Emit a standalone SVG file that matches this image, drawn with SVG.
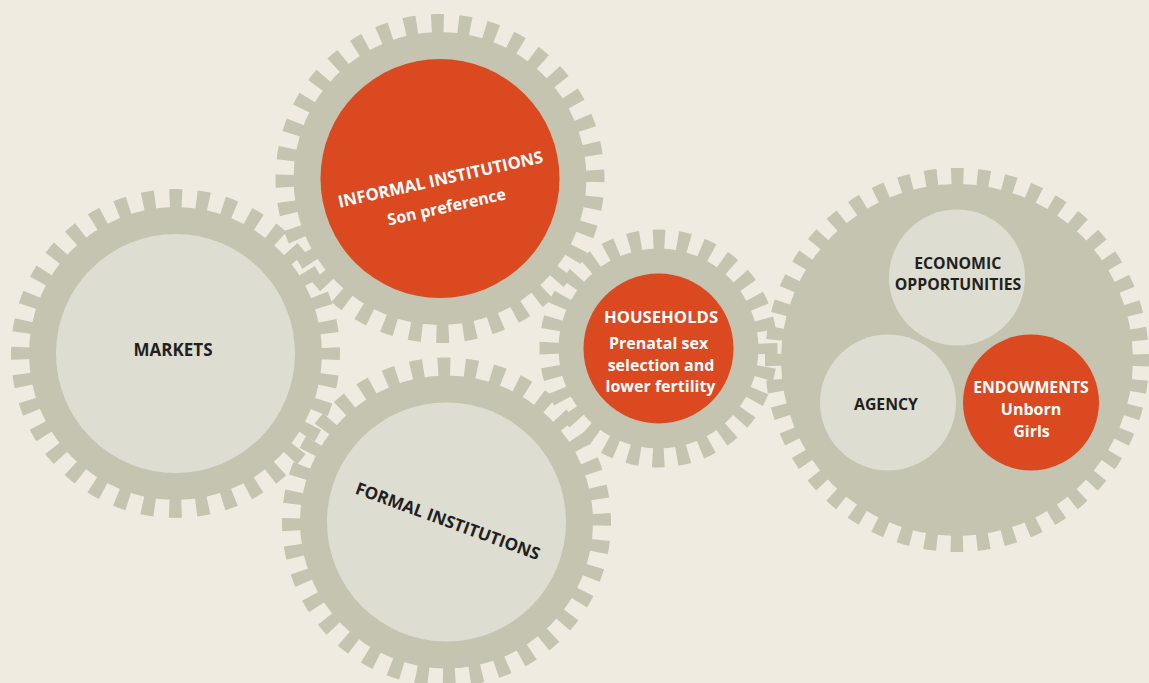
<svg xmlns="http://www.w3.org/2000/svg" width="1149" height="683" viewBox="0 0 1149 683">
  <defs>
    <style>
      .bg { fill: #EFEBE1; }
      .body { fill: #C5C4B1; }
      .teeth { fill: none; stroke: #C5C4B1; }
      .big { stroke-width: 21; stroke-dasharray: 12.4 14.478; stroke-dashoffset: 6.2; }
      .small { stroke-width: 22; stroke-dasharray: 11.8 12.435; stroke-dashoffset: 5.9; }
      .large { stroke-width: 20; stroke-dasharray: 12.3 13.69; stroke-dashoffset: 6.15; }
      .light { fill: #DDDDD1; }
      .red { fill: #DA4920; }
      text { font-family: "Open Sans", "Noto Sans", "Liberation Sans", sans-serif; font-weight: 700; text-anchor: middle; }
      .dark { fill: #231F20; }
      .white { fill: #FFFFFF; }
    </style>
  </defs>
  <rect class="bg" x="0" y="0" width="1149" height="683"/>

  <g id="connectors"/>

  <g id="markets">
    <circle class="teeth big" cx="175.5" cy="353.5" r="154"/>
    <circle class="body" cx="175.5" cy="353.5" r="146.5"/>
    <circle class="light" cx="175.5" cy="353.5" r="119.5"/>
    <text class="dark" x="173" y="356" font-size="17">MARKETS</text>
  </g>

  <g id="informal-institutions">
    <circle class="teeth big" cx="440" cy="178.5" r="154" transform="rotate(-1 440 178.5)"/>
    <circle class="body" cx="440" cy="178.5" r="146.5"/>
    <circle class="red" cx="440" cy="178.5" r="119.5"/>
    <g transform="translate(441.7 185) rotate(-12.5)">
      <text class="white" x="0" y="0" font-size="16.6">INFORMAL INSTITUTIONS</text>
      <text class="white" x="0" y="28" font-size="16">Son preference</text>
    </g>
  </g>

  <g id="formal-institutions">
    <circle class="teeth big" cx="446.5" cy="522" r="154" transform="rotate(-1 446.5 522)"/>
    <circle class="body" cx="446.5" cy="522" r="146.5"/>
    <circle class="light" cx="446.5" cy="522" r="119.5"/>
    <text class="dark" font-size="17" transform="translate(445.8 526.7) rotate(20.1)" x="0" y="0">FORMAL INSTITUTIONS</text>
  </g>

  <g id="households">
    <circle class="teeth small" cx="658.5" cy="348.5" r="108"/>
    <circle class="body" cx="658.5" cy="348.5" r="100"/>
    <circle class="red" cx="658.5" cy="348.5" r="75"/>
    <text class="white" x="661" y="323.3" font-size="16.7">HOUSEHOLDS</text>
    <text class="white" x="658.5" y="349" font-size="16">Prenatal sex</text>
    <text class="white" x="661" y="370.7" font-size="16">selection and</text>
    <text class="white" x="660.5" y="391.7" font-size="16">lower fertility</text>
  </g>

  <g id="outcomes">
    <circle class="teeth large" cx="957" cy="360" r="182"/>
    <circle class="body" cx="957" cy="360" r="176"/>
    <g id="economic-opportunities">
      <circle class="light" cx="957" cy="277.5" r="68"/>
      <text class="dark" x="957.7" y="269.3" font-size="15.8">ECONOMIC</text>
      <text class="dark" x="958" y="290" font-size="15.8">OPPORTUNITIES</text>
    </g>
    <g id="agency">
      <circle class="light" cx="888" cy="402.5" r="68"/>
      <text class="dark" x="886" y="410" font-size="15.8">AGENCY</text>
    </g>
    <g id="endowments">
      <circle class="red" cx="1031" cy="402.5" r="68"/>
      <text class="white" x="1031" y="393.3" font-size="15.8">ENDOWMENTS</text>
      <text class="white" x="1031" y="415" font-size="16">Unborn</text>
      <text class="white" x="1031.5" y="436.5" font-size="16">Girls</text>
    </g>
  </g>
</svg>
